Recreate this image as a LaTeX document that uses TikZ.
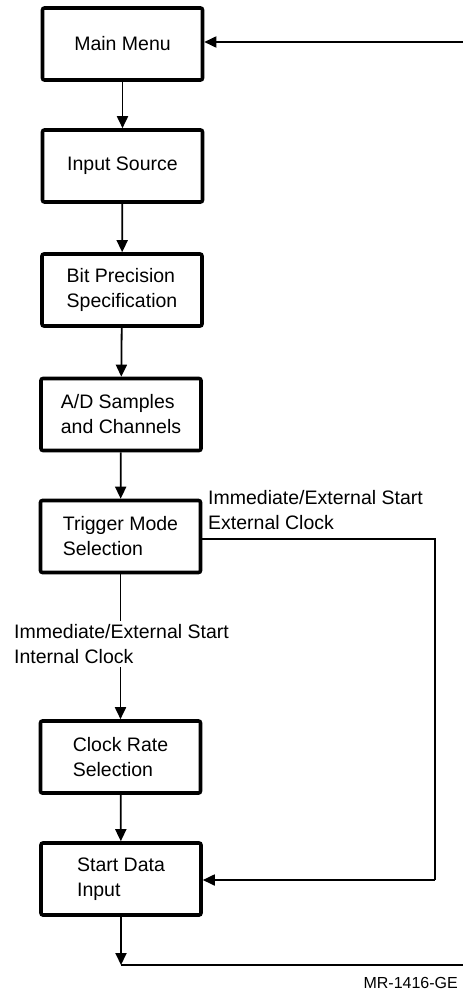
\documentclass[tikz,border=0pt]{standalone}
\usepackage{fontspec}
\setmainfont{Liberation Sans}
\usetikzlibrary{arrows.meta}
\begin{document}
\begin{tikzpicture}[x=1pt,y=-1pt,
  stepbox/.style={draw, line width=3.6pt, rounded corners=2pt, minimum width=160pt,
    minimum height=72pt, align=left, inner sep=0pt,
    font=\fontsize{19.5}{25}\selectfont},
  conn/.style={line width=1.8pt},
  arr/.style={conn, -{Triangle[width=11pt,length=12pt]}},
  lbl/.style={align=left, inner sep=0pt, font=\fontsize{19.5}{25}\selectfont}]
\useasboundingbox (0,0) rectangle (463,993);
\node[stepbox] (main) at (122.5,44) {Main Menu};
\node[stepbox] (src) at (122.5,166) {Input Source};
\node[stepbox] (bit) at (122,290) {Bit Precision\\Specification};
\node[stepbox] (ad) at (121,414.5) {A/D Samples\\and Channels};
\node[stepbox] (trig) at (120.5,536.5) {Trigger Mode\\Selection};
\node[stepbox] (clk) at (120.5,757) {Clock Rate\\Selection};
\node[stepbox] (start) at (121,879) {Start Data\\Input};
\node[lbl, anchor=north west] (extlbl) at (208,490) {Immediate/External Start\\External Clock};
\coordinate (tr) at (435,539);
\coordinate (br) at (435,880);
\coordinate (bot) at (121,965);
\coordinate (rb) at (475,965);
\coordinate (rt) at (475,42);
\draw[arr] (main) -- (src);
\draw[arr] (src) -- (bit);
\draw[arr] (bit) -- (ad);
\draw[arr] (ad) -- (trig);
\draw[arr] (trig.south -| clk.north) -- (clk.north);
\node[lbl, anchor=north west, fill=white, inner ysep=3pt] (intlbl) at (14,621) {Immediate/External Start\\Internal Clock};
\draw[arr] (clk) -- (start);
\draw[conn] (trig.east |- tr) -- (tr) -- (br);
\draw[arr] (br) -- (start.east |- br);
\draw[arr] (start.south) -- (bot);
\draw[conn] (bot) -- (rb) -- (rt);
\draw[arr] (rt) -- (main.east |- rt);
\node[lbl, font=\fontsize{16}{19}\selectfont, anchor=base east] (code) at (458,988) {MR-1416-GE};
\end{tikzpicture}
\end{document}
